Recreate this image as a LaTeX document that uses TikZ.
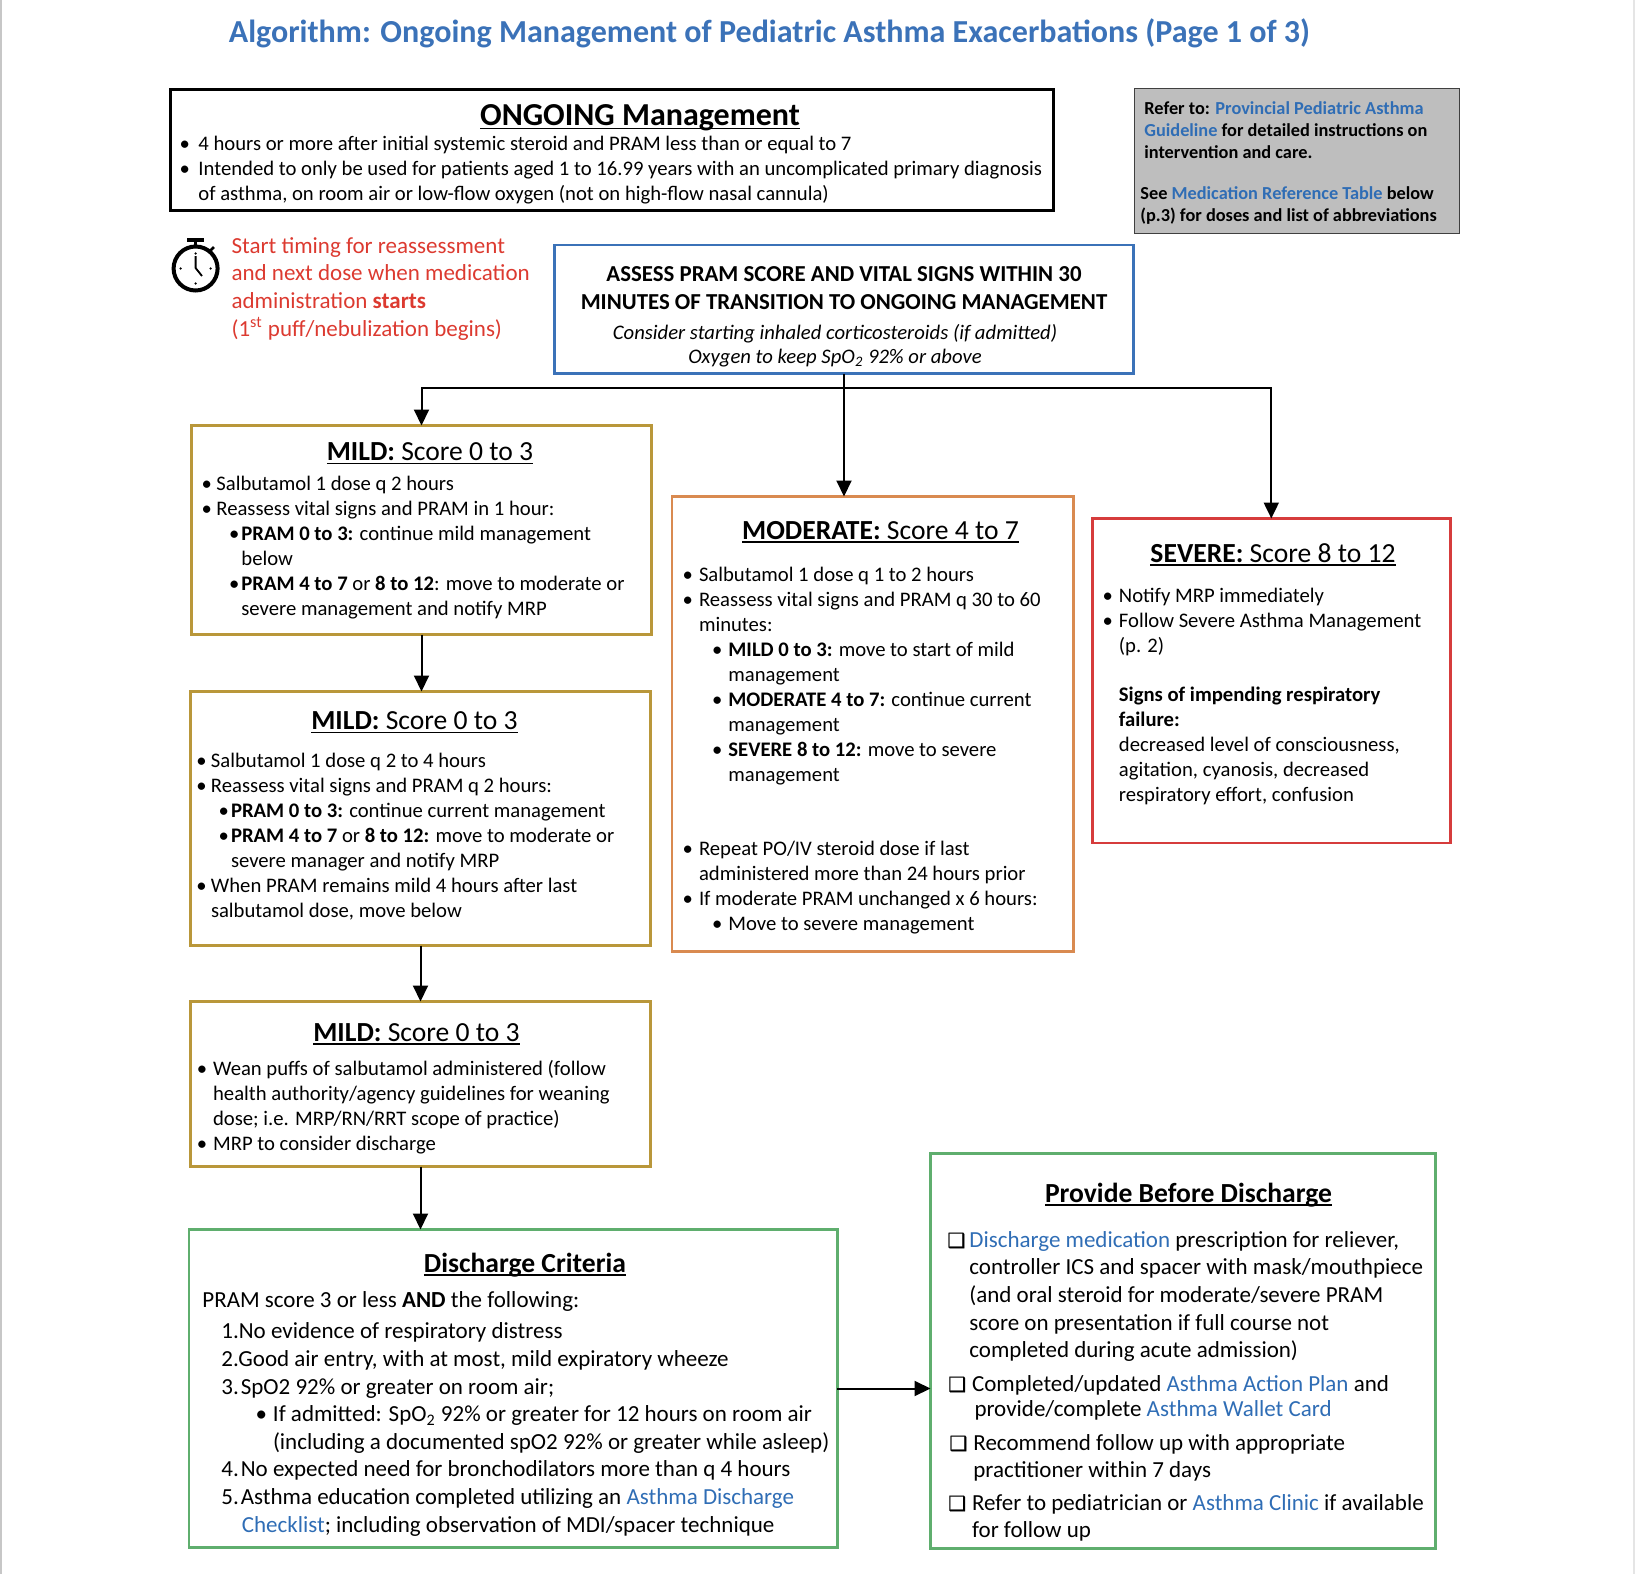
\documentclass[tikz,border=0pt]{standalone}
\usepackage{fontspec}
\setmainfont{Carlito}
\newfontfamily\symfont[FakeBold=0.9]{DejaVu Sans}
\usetikzlibrary{arrows.meta}
\definecolor{linkblue}{HTML}{2F6DB5}
\definecolor{titleblue}{HTML}{3B72B8}
\definecolor{framegold}{HTML}{B9973A}
\definecolor{frameorange}{HTML}{D98A50}
\definecolor{framered}{HTML}{D63C3C}
\definecolor{framegreen}{HTML}{5FAE6E}
\definecolor{framegrey}{HTML}{BEBEBE}
\definecolor{alertred}{HTML}{DC3A30}
\newcommand{\lnk}[1]{\textcolor{linkblue}{#1}}
\newcommand{\hdul}[1]{\setbox0\hbox{#1}\rlap{\rule[-1.7pt]{\wd0}{0.8pt}}\box0}
\newcommand{\bl}[1][3pt]{\llap{\textbullet\hspace{#1}}}
\newcommand{\sbl}{\llap{\textbullet\hspace{1pt}}}
\newcommand{\chk}{{\symfont\fontsize{10pt}{10pt}\selectfont\symbol{"2751}}}
\tikzset{
	framebox/.style={draw, line width=1.3pt, inner sep=0pt, outer sep=0pt},
	goldbox/.style={framebox, draw=framegold},
	bodytxt/.style={inner sep=0pt, anchor=north west, align=left, font=\fontsize{10.34pt}{12.5pt}\selectfont},
	largetxt/.style={inner sep=0pt, anchor=north west, align=left, font=\fontsize{11.5pt}{13.8pt}\selectfont},
	greytxt/.style={inner sep=0pt, anchor=north west, align=left, font=\fontsize{9.16pt}{11pt}\selectfont\bfseries},
	headtxt/.style={inner sep=0pt, font=\fontsize{13.8pt}{16pt}\selectfont},
	connect/.style={line width=1pt, -{Triangle[length=8pt,width=7.5pt]}}
}

\begin{document}
\begin{tikzpicture}[x=0.5pt,y=-0.5pt]
	\useasboundingbox (0,0) rectangle (1635,1574);
	\fill[black!22] (0,0) rectangle (2,1574);
	\fill[black!10] (1633,0) rectangle (1635,1574);

	%%%%% TOP %%%%%
	\node[inner sep=0pt, text=titleblue, font=\fontsize{16.03pt}{18pt}\selectfont\bfseries] (title) at (769.5,33) {Algorithm: Ongoing Management of Pediatric Asthma Exacerbations (Page 1 of 3)};

	\node[framebox, minimum width=441.5pt, minimum height=60.25pt] (ongoing) at (612,150) {};
	\node[headtxt, font=\fontsize{16pt}{18pt}\selectfont] (ongoinghead) at (640,118) {\hdul{\textbf{ONGOING Management}}};
	\node[bodytxt] (ongoingbody) at (198,136) {\bl[4.2pt]4 hours or more after initial systemic steroid and PRAM less than or equal to 7\\
		\bl[4.2pt]Intended to only be used for patients aged 1 to 16.99 years with an uncomplicated primary diagnosis\\
		of asthma, on room air or low-flow oxygen (not on high-flow nasal cannula)};

	\node[framebox, draw=black!75, line width=0.7pt, fill=framegrey, minimum width=162.25pt, minimum height=72.75pt] (refer) at (1297,161) {};
	\node[greytxt] (refertop) at (1144,101) {Refer to: \lnk{Provincial Pediatric Asthma}\\
		\lnk{Guideline} for detailed instructions on\\
		intervention and care.};
	\node[greytxt] (referlow) at (1140,186) {See \lnk{Medication Reference Table} below\\
		(p.3) for doses and list of abbreviations};

	% stopwatch
	\draw[line width=2pt] (195.6,268.5) circle (22);
	\fill (187,238) rectangle (204,242);
	\draw[line width=1.5pt] (195.6,241) -- (195.6,247);
	\draw[line width=1.3pt] (209,252) -- (214,247);
	\draw[line width=0.9pt] (195.6,256) -- (195.6,268) -- (202,276);
	\foreach \ang in {0,90,180,270}
		\fill (195.6,268.5) ++(\ang:15) circle (1.3);

	\node[largetxt, text=alertred] (timing) at (231.2,237) {Start timing for reassessment\\
		and next dose when medication\\
		administration \textbf{starts}\\
		(1\textsuperscript{st} puff/nebulization begins)};

	\node[framebox, draw=titleblue, minimum width=289.5pt, minimum height=64.25pt] (assess) at (844,309.25) {};
	\node[inner sep=0pt, align=center, font=\fontsize{11.42pt}{13.8pt}\selectfont\bfseries] (assesscaps) at (844,288) {ASSESS PRAM SCORE AND VITAL SIGNS WITHIN 30\\
		MINUTES OF TRANSITION TO ONGOING MANAGEMENT};
	\node[inner sep=0pt, align=center, font=\fontsize{10.34pt}{12.2pt}\selectfont\itshape] (assessnote) at (835,346) {Consider starting inhaled corticosteroids (if admitted)\\
		Oxygen to keep SpO\textsubscript{2} 92\% or above};
	\coordinate (trunk) at (844,388);

	%%%%% MILD %%%%%
	\node[goldbox, minimum width=230pt, minimum height=104.5pt] (mild1) at (421.5,530) {};
	\node[headtxt] (mild1head) at (430,453.5) {\hdul{\textbf{MILD:} Score 0 to 3}};
	\node[bodytxt] (mild1body) at (216,476) {\bl[2.2pt]Salbutamol 1 dose q 2 hours\\
		\bl[2.2pt]Reassess vital signs and PRAM in 1 hour:\\
		\hspace*{12.5pt}\sbl\textbf{PRAM 0 to 3:} continue mild management\\
		\hspace*{12.5pt}below\\
		\hspace*{12.5pt}\sbl\textbf{PRAM 4 to 7} or \textbf{8 to 12}: move to moderate or\\
		\hspace*{12.5pt}severe management and notify MRP};

	\node[goldbox, minimum width=230pt, minimum height=127pt] (mild2) at (420.5,818.5) {};
	\node[headtxt] (mild2head) at (414.5,722.5) {\hdul{\textbf{MILD:} Score 0 to 3}};
	\node[bodytxt] (mild2body) at (210.6,753) {\bl[2.2pt]Salbutamol 1 dose q 2 to 4 hours\\
		\bl[2.2pt]Reassess vital signs and PRAM q 2 hours:\\
		\hspace*{10pt}\sbl\textbf{PRAM 0 to 3:} continue current management\\
		\hspace*{10pt}\sbl\textbf{PRAM 4 to 7} or \textbf{8 to 12:} move to moderate or\\
		\hspace*{10pt}severe manager and notify MRP\\
		\bl[2.2pt]When PRAM remains mild 4 hours after last\\
		salbutamol dose, move below};

	\node[goldbox, minimum width=230pt, minimum height=82.5pt] (mild3) at (420.5,1084) {};
	\node[headtxt] (mild3head) at (416.5,1034) {\hdul{\textbf{MILD:} Score 0 to 3}};
	\node[bodytxt] (mild3body) at (212.7,1060) {\bl Wean puffs of salbutamol administered (follow\\
		health authority/agency guidelines for weaning\\
		dose; i.e. MRP/RN/RRT scope of practice)\\
		\bl MRP to consider discharge};

	%%%%% MODERATE / SEVERE %%%%%
	\node[framebox, draw=frameorange, minimum width=200.75pt, minimum height=227.5pt] (moderate) at (872.75,724) {};
	\node[headtxt] (moderatehead) at (880.5,532) {\hdul{\textbf{MODERATE:} Score 4 to 7}};
	\node[bodytxt] (moderatebody) at (698.6,566.5) {\bl Salbutamol 1 dose q 1 to 2 hours\\
		\bl Reassess vital signs and PRAM q 30 to 60\\
		minutes:\\
		\hspace*{14.7pt}\bl\textbf{MILD 0 to 3:} move to start of mild\\
		\hspace*{14.7pt}management\\
		\hspace*{14.7pt}\bl\textbf{MODERATE 4 to 7:} continue current\\
		\hspace*{14.7pt}management\\
		\hspace*{14.7pt}\bl\textbf{SEVERE 8 to 12:} move to severe\\
		\hspace*{14.7pt}management};
	\node[bodytxt] (moderatelow) at (698.6,840.5) {\bl Repeat PO/IV steroid dose if last\\
		administered more than 24 hours prior\\
		\bl If moderate PRAM unchanged x 6 hours:\\
		\hspace*{14.7pt}\bl Move to severe management};

	\node[framebox, draw=framered, minimum width=179pt, minimum height=162.25pt] (severe) at (1271.3,680.75) {};
	\node[headtxt] (severehead) at (1273,554.7) {\hdul{\textbf{SEVERE:} Score 8 to 12}};
	\node[bodytxt] (severetop) at (1118.5,587.5) {\bl Notify MRP immediately\\
		\bl Follow Severe Asthma Management\\
		(p. 2)};
	\node[bodytxt] (severelow) at (1118.5,686.5) {\textbf{Signs of impending respiratory}\\
		\textbf{failure:}\\
		decreased level of consciousness,\\
		agitation, cyanosis, decreased\\
		respiratory effort, confusion};

	%%%%% DISCHARGE %%%%%
	\node[framebox, draw=framegreen, minimum width=324.25pt, minimum height=159pt] (discharge) at (513.2,1388.5) {};
	\node[headtxt] (dischargehead) at (525,1265) {\hdul{\textbf{Discharge Criteria}}};
	\node[largetxt] (dischargeintro) at (202,1291) {PRAM score 3 or less \textbf{AND} the following:};
	\node[largetxt] (dischargelist) at (221,1322.5) {1.No evidence of respiratory distress\\
		2.Good air entry, with at most, mild expiratory wheeze\\
		3.\hspace{1pt}SpO2 92\% or greater on room air;\\
		\hspace*{25.8pt}\bl If admitted: SpO\textsubscript{2} 92\% or greater for 12 hours on room air\\
		\hspace*{25.8pt}(including a documented spO2 92\% or greater while asleep)\\
		4.\hspace{1pt}No expected need for bronchodilators more than q 4 hours\\
		5.\hspace{1pt}Asthma education completed utilizing an \lnk{Asthma Discharge}\\
		\hspace*{10.2pt}\lnk{Checklist}; including observation of MDI/spacer technique};

	\node[framebox, draw=framegreen, minimum width=252.5pt, minimum height=197.5pt] (provide) at (1183,1351) {};
	\node[headtxt] (providehead) at (1188.5,1195) {\hdul{\textbf{Provide Before Discharge}}};
	\node[largetxt] (providea) at (969,1231) {\llap{\chk\hspace{2pt}}\lnk{Discharge medication} prescription for reliever,\\
		controller ICS and spacer with mask/mouthpiece\\
		(and oral steroid for moderate/severe PRAM\\
		score on presentation if full course not\\
		completed during acute admission)};
	\node[largetxt, font=\fontsize{11.5pt}{12.5pt}\selectfont] (provideb) at (971.7,1375) {\llap{\chk\hspace{3pt}}Completed/updated \lnk{Asthma Action Plan} and\\
		\hspace*{1.2pt}provide/complete \lnk{Asthma Wallet Card}};
	\node[largetxt] (providec) at (973,1434) {\llap{\chk\hspace{3pt}}Recommend follow up with appropriate\\
		practitioner within 7 days};
	\node[largetxt] (provided) at (971.7,1494) {\llap{\chk\hspace{3pt}}Refer to pediatrician or \lnk{Asthma Clinic} if available\\
		for follow up};

	%%%%% ARROWS %%%%%
	\draw[line width=1pt] (assess.south) -- (trunk);
	\draw[connect] (trunk) -| (mild1.north);
	\draw[connect] (trunk) -- (trunk |- moderate.north);
	\draw[connect] (trunk) -| (severe.north);
	\draw[connect] (mild1.south) -- (mild1.south |- mild2.north);
	\draw[connect] (mild2.south) -- (mild3.north);
	\draw[connect] (mild3.south) -- (mild3.south |- discharge.north);
	\draw[connect] (discharge.east) -- (discharge.east -| provide.west);
\end{tikzpicture}
\end{document}
